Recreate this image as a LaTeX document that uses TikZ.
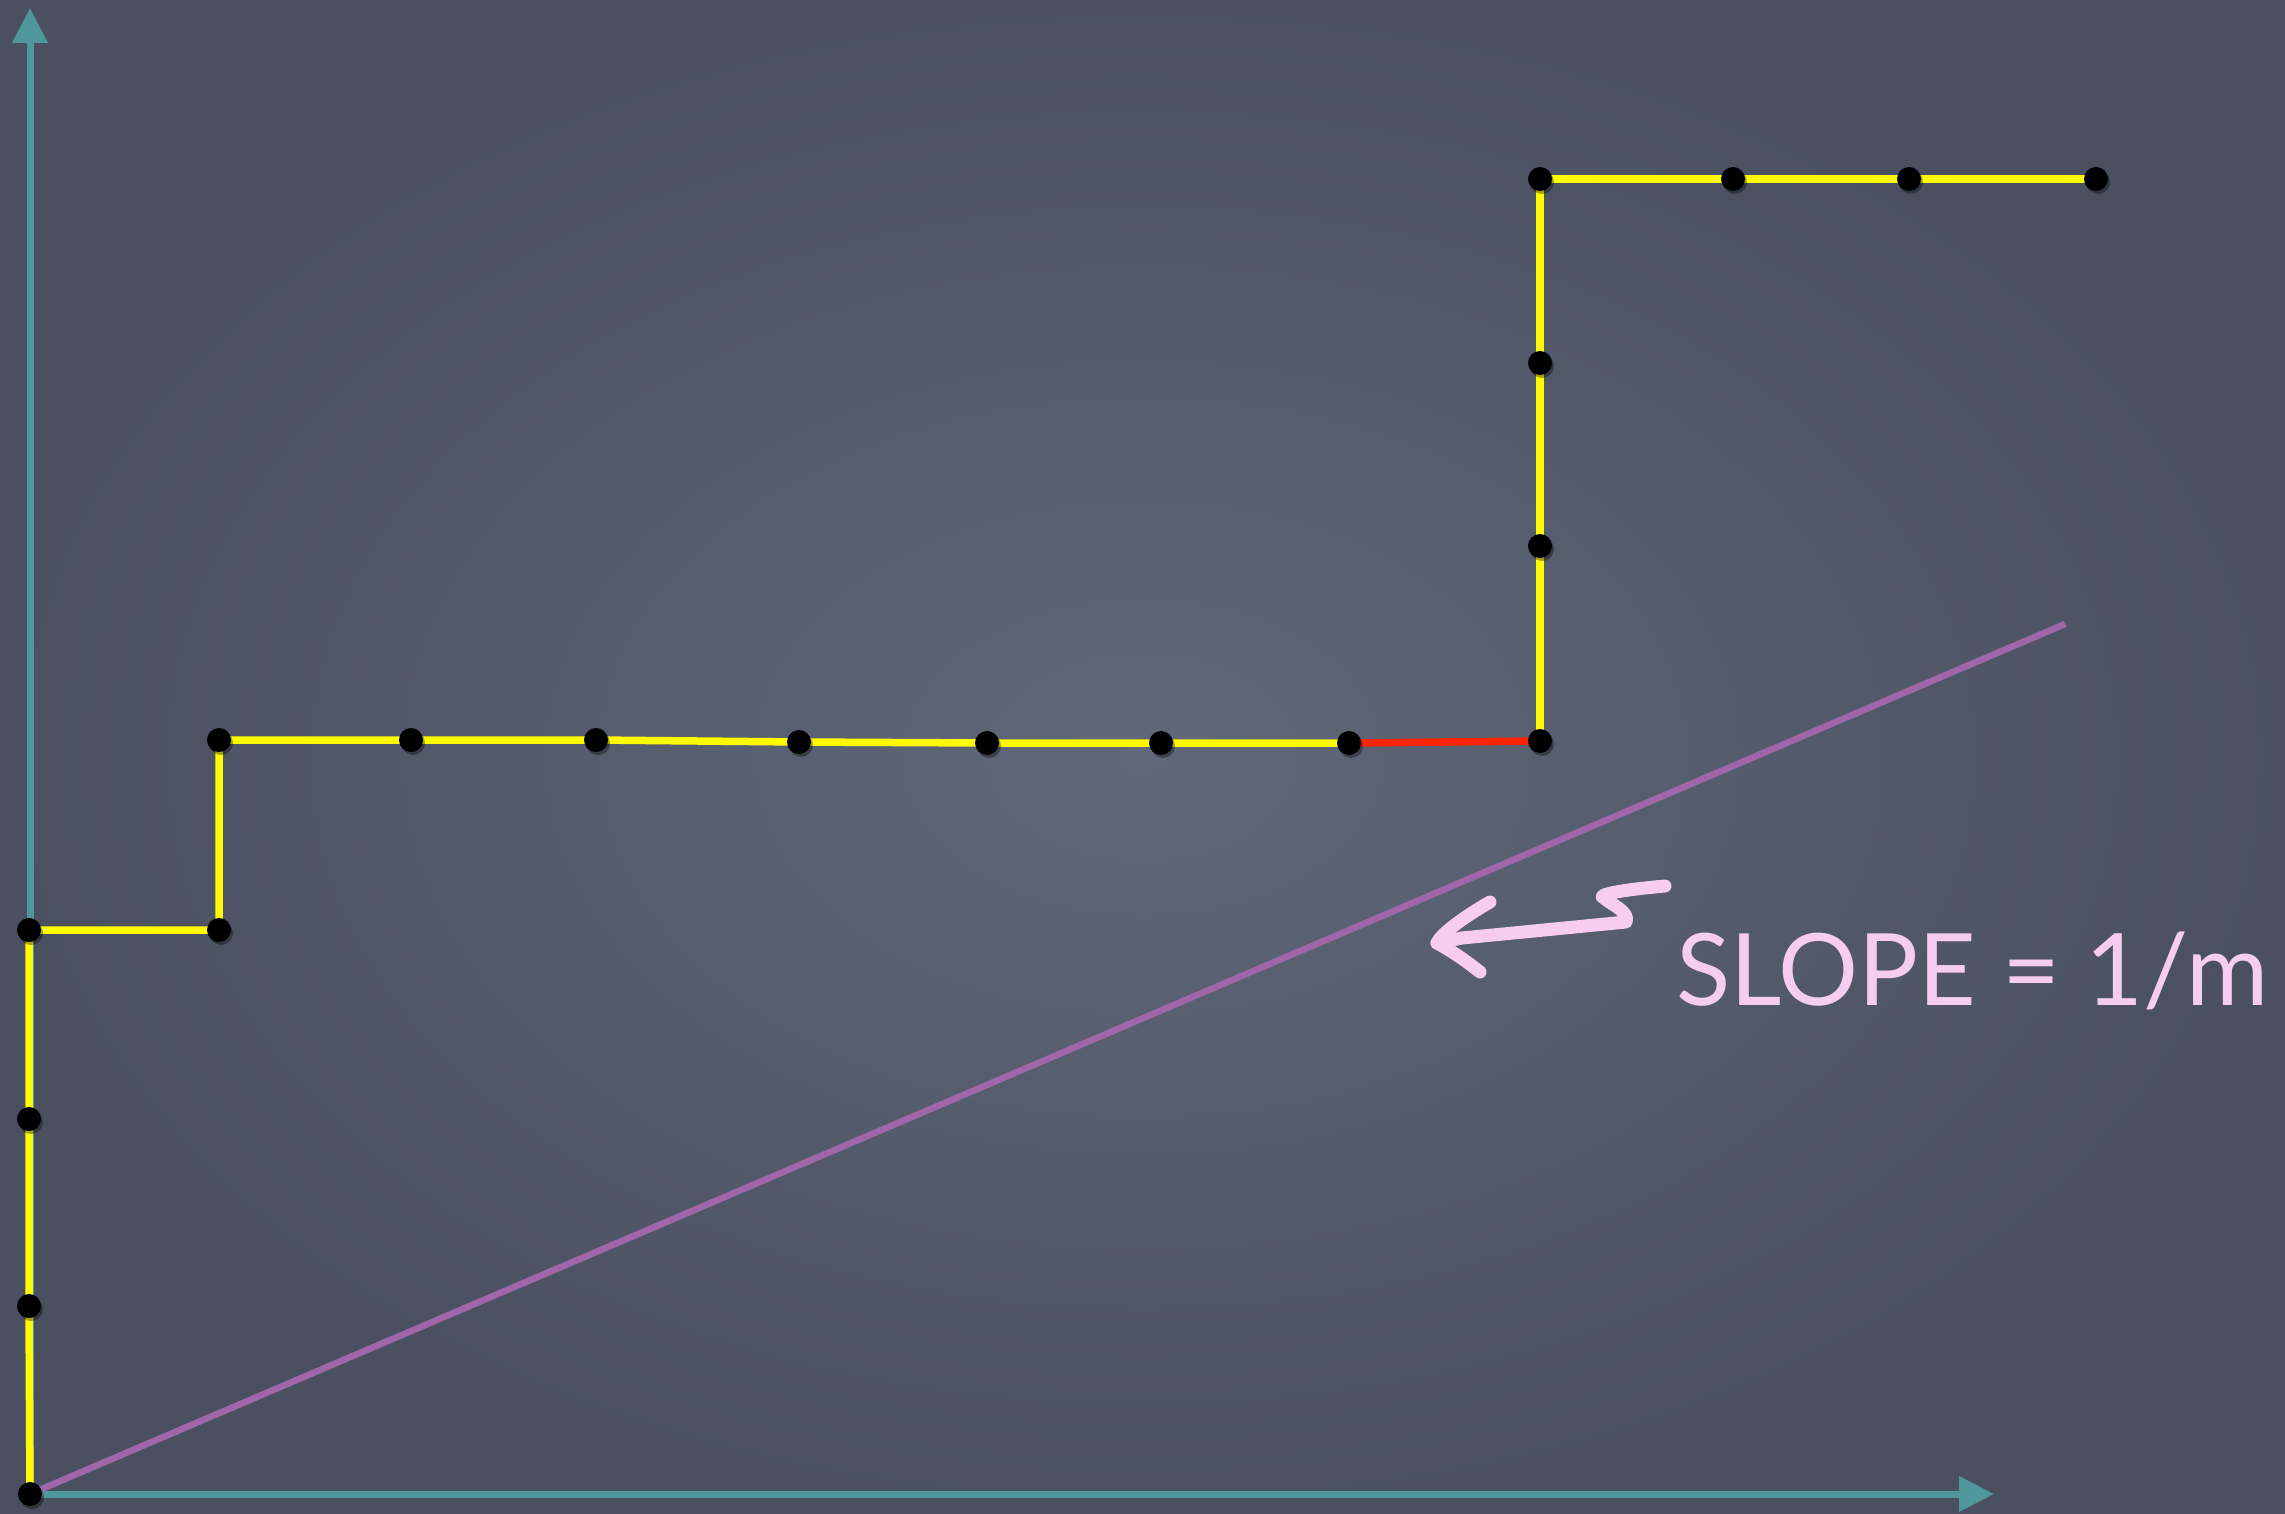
\documentclass[tikz,border=0pt]{standalone}
\usepackage{fontspec}
\setmainfont{Lato}
\usetikzlibrary{arrows.meta,shadows}
\definecolor{boardmid}{RGB}{96,104,121}
\definecolor{boardedge}{RGB}{74,80,95}
\definecolor{axisteal}{RGB}{78,152,156}
\definecolor{stepyellow}{RGB}{255,250,0}
\definecolor{stepred}{RGB}{255,36,0}
\definecolor{slopepurple}{RGB}{160,102,170}
\definecolor{chalkpink}{RGB}{246,204,240}
\begin{document}
\begin{tikzpicture}[x=1pt,y=-1pt,
  axisline/.style={draw=axisteal,line width=7pt,-{Triangle[width=34pt,length=35pt]}},
  stepline/.style={draw=stepyellow,line width=7.5pt},
  redline/.style={draw=stepred,line width=7.5pt},
  slopeline/.style={draw=slopepurple,line width=6.5pt},
  dot/.style={circle,fill=black,inner sep=0pt,minimum size=24pt,
    drop shadow={shadow xshift=2pt,shadow yshift=-3pt,opacity=0.35,fill=black}},
  chalk/.style={draw=chalkpink,line width=13pt,line cap=round,line join=round},
  chalktext/.style={text=chalkpink,font=\fontsize{100}{100}\selectfont,inner sep=0pt}]
% board
\shade[inner color=boardmid,outer color=boardedge] (0,0) rectangle (2285,1514);
\useasboundingbox (0,0) rectangle (2285,1514);
% coordinates
\coordinate (o) at (30,1494);
\coordinate (ytip) at (30,8);
\coordinate (xtip) at (1994,1494);
\coordinate (a1) at (29,1306);
\coordinate (a2) at (29,1119);
\coordinate (a3) at (29,930);
\coordinate (b1) at (219,930);
\coordinate (b2) at (219,740);
\coordinate (c1) at (411,740);
\coordinate (c2) at (596,740);
\coordinate (c3) at (799,742);
\coordinate (c4) at (987,743);
\coordinate (c5) at (1161,743);
\coordinate (c6) at (1349,743);
\coordinate (c7) at (1540,741);
\coordinate (d1) at (1540,546);
\coordinate (d2) at (1540,363);
\coordinate (d3) at (1540,179);
\coordinate (e1) at (1733,179);
\coordinate (e2) at (1909,179);
\coordinate (e3) at (2096,179);
\coordinate (pe) at (2065,624);
% axes
\draw[axisline] (o) -- (ytip);
\draw[axisline] (o) -- (xtip);
% slope line
\draw[slopeline] (o) -- (pe);
% staircase
\draw[stepline] (o) -- (a1) -- (a2) -- (a3) -- (b1) -- (b2) -- (c1) -- (c2) -- (c3) -- (c4) -- (c5) -- (c6);
\draw[redline] (c6) -- (c7);
\draw[stepline] (c7) -- (d1) -- (d2) -- (d3) -- (e1) -- (e2) -- (e3);
% dots
\foreach \p in {o,a1,a2,a3,b1,b2,c1,c2,c3,c4,c5,c6,c7,d1,d2,d3,e1,e2,e3}
  \node[dot] (n\p) at (\p) {};
% chalk arrow and label
\coordinate (s0) at (1665,886);
\coordinate (s1) at (1604,898);
\coordinate (s2) at (1626,922);
\coordinate (s3) at (1462,938);
\coordinate (tip) at (1437,943);
\coordinate (bu) at (1490,902);
\coordinate (bl) at (1480,972);
\draw[chalk] (s0) .. controls (1620,890) and (1595,895) .. (s1) .. controls (1612,905) and (1630,912) .. (s2) -- (s3) -- (tip);
\draw[chalk] (bu) .. controls (1462,918) and (1440,935) .. (tip) .. controls (1450,950) and (1465,960) .. (bl);
\node[chalktext,anchor=base west] (lbl) at (1676,1005) {SLOPE = 1/m};
\end{tikzpicture}
\end{document}
